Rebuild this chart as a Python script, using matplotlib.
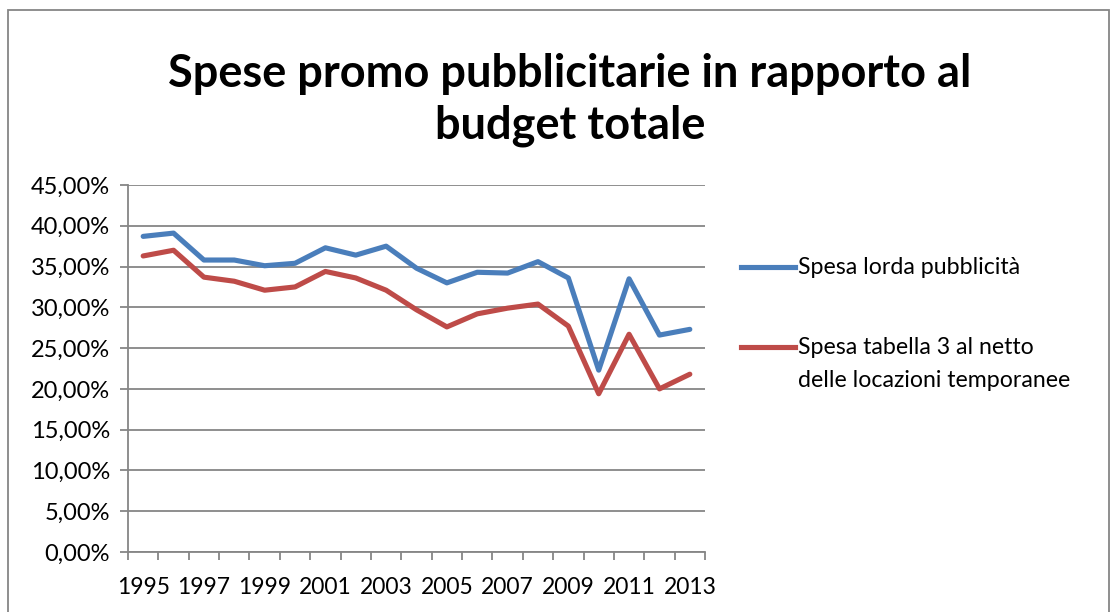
import matplotlib.pyplot as plt
from matplotlib.lines import Line2D
from matplotlib.patches import Rectangle
from matplotlib.ticker import FuncFormatter

plt.rcParams['font.family'] = ['Lato', 'DejaVu Sans']

years = list(range(1995, 2014))
lorda = [38.7, 39.1, 35.8, 35.8, 35.1, 35.4, 37.3, 36.4, 37.5, 34.8,
         33.0, 34.3, 34.2, 35.6, 33.6, 22.3, 33.5, 26.6, 27.3]
tabella3 = [36.3, 37.0, 33.7, 33.2, 32.1, 32.5, 34.4, 33.6, 32.1, 29.7,
            27.6, 29.2, 29.9, 30.4, 27.7, 19.4, 26.7, 20.0, 21.8]
labels = ['Spesa lorda pubblicità',
          'Spesa tabella 3 al netto\ndelle locazioni temporanee']
colors = ['#4A7EBB', '#BE4B48']

fig = plt.figure(figsize=(11.2, 6.12), dpi=100)
ax = fig.add_axes([128/1120, 1 - 552/612, (705 - 128)/1120, (552 - 185)/612])

ax.plot(years, lorda, color=colors[0], lw=3.7, solid_capstyle='round')
ax.plot(years, tabella3, color=colors[1], lw=3.7, solid_capstyle='round')

ax.set_xlim(1994.5, 2013.5)
ax.set_ylim(0, 45)
ax.set_yticks(range(0, 50, 5))
ax.yaxis.set_major_formatter(FuncFormatter(lambda v, p: f'{v:.2f}%'.replace('.', ',')))
ax.grid(axis='y', color='#868686', lw=1.3)
ax.set_axisbelow(True)

ax.set_xticks(years[::2])
ax.set_xticks([y + 0.5 for y in [1994] + years], minor=True)
ax.tick_params(axis='x', which='major', length=0, pad=18, labelsize=16.5, colors='black')
ax.tick_params(axis='x', which='minor', length=6, width=1.3, color='#868686', direction='out')
ax.tick_params(axis='y', length=6, width=1.3, color='#868686', labelsize=17, pad=7)

for s in ['top', 'right']:
    ax.spines[s].set_visible(False)
for s in ['left', 'bottom']:
    ax.spines[s].set_color('#868686')
    ax.spines[s].set_linewidth(1.3)

fig.text(570/1120, 1 - 100/612, 'Spese promo pubblicitarie in rapporto al\nbudget totale',
         ha='center', va='center', fontsize=32.5, fontweight='bold', linespacing=1.3)

# legend
for (ly, txt, c) in [(267, labels[0], colors[0]), (347, labels[1], colors[1])]:
    fy = 1 - ly/612
    fig.add_artist(Line2D([741/1120, 795/1120], [fy, fy], color=c, lw=3.7,
                          transform=fig.transFigure))
    fig.text(798/1120, fy + 10/612, txt, ha='left', va='top', fontsize=16.7, linespacing=1.72)

fig.add_artist(Rectangle((8/1120, -0.05), (1109 - 8)/1120, 1.05 - 10/612,
                         transform=fig.transFigure, fill=False, ec='#868686', lw=1.3))

fig.savefig('out.png', dpi=100)
